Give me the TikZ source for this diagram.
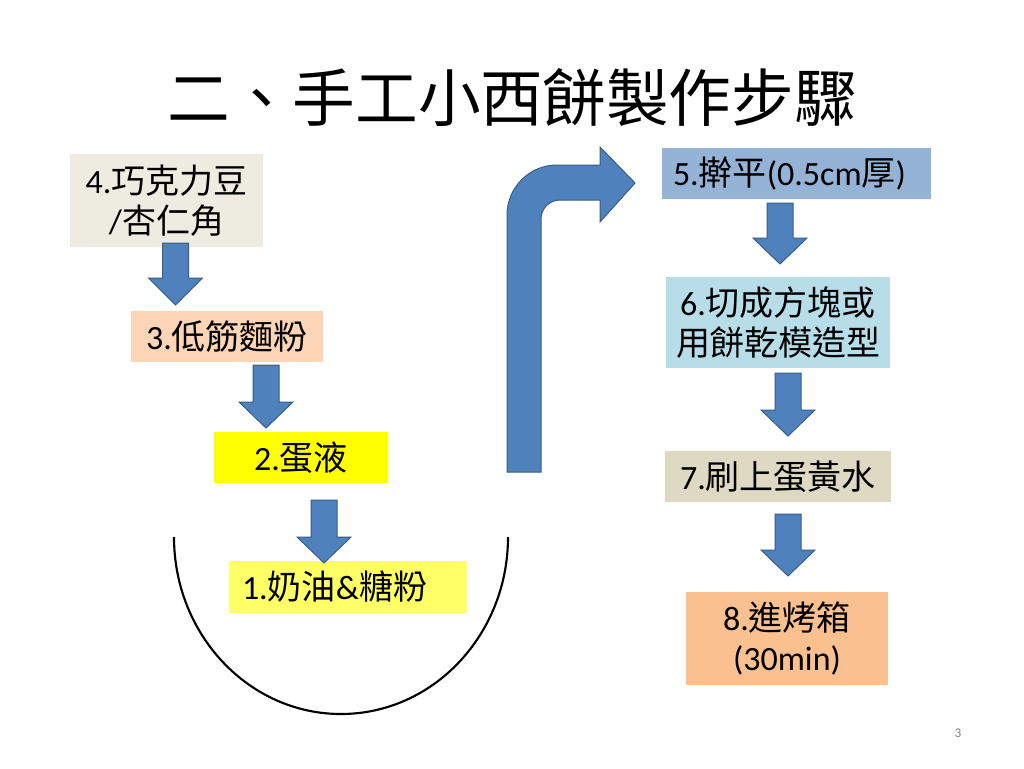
\documentclass[tikz,border=0pt]{standalone}
\usepackage{fontspec}
\setmainfont{Carlito}
\newfontfamily\cjk{Noto Sans CJK TC}
\definecolor{cbox4}{HTML}{EEECE1}
\definecolor{cbox3}{HTML}{FBD5B5}
\definecolor{cbox2}{HTML}{FFFF00}
\definecolor{cbox1}{HTML}{FFFF66}
\definecolor{cbox5}{HTML}{95B3D7}
\definecolor{cbox6}{HTML}{B7DEE8}
\definecolor{cbox7}{HTML}{DDD9C3}
\definecolor{cbox8}{HTML}{FAC090}
\definecolor{arrowblue}{HTML}{4F81BD}
\definecolor{arrowedge}{HTML}{385D8A}
\newcommand\blkarrow[4]{\filldraw[barrow] ({#1-13},#2) -- ({#1+13},#2) -- ({#1+13},#3) -- ({#1+27},#3) -- (#1,#4) -- ({#1-27},#3) -- ({#1-13},#3) -- cycle;}
\begin{document}
\begin{tikzpicture}[x=0.75pt,y=-0.75pt,
  stepbox/.style={inner sep=0pt, align=center, font=\fontsize{25.5}{30}\selectfont},
  bsize/.style 2 args={minimum width={#1*0.75pt}, minimum height={#2*0.75pt}},
  barrow/.style={fill=arrowblue, draw=arrowedge, line width=0.75pt, line join=miter}]
\fill[white] (0,0) rectangle (1024,768);
\useasboundingbox (0,0) rectangle (1024,768);

\node[font=\fontsize{47}{50}\selectfont\cjk] (title) at (512,98) {二、手工小西餅製作步驟};

\node[stepbox, fill=cbox4, bsize={193}{93}] (b4) at (166.5,200.5) {4.{\cjk 巧克力豆}\\/{\cjk 杏仁角}};
\node[stepbox, fill=cbox3, bsize={192}{51}] (b3) at (227,336.5) {3.{\cjk 低筋麵粉}};
\node[stepbox, fill=cbox2, bsize={174}{51}] (b2) at (301,457.5) {2.{\cjk 蛋液}};
\node[stepbox, fill=cbox1, bsize={238}{52}, inner xsep=9.75pt, text width=159pt, align=left] (b1) at (348,587) {1.{\cjk 奶油}\&{\cjk 糖粉}};

\node[stepbox, fill=cbox5, bsize={269}{51}, inner xsep=8.25pt, text width=185.25pt, align=left] (b5) at (796.5,173.5) {5.{\cjk 擀平}(0.5cm{\cjk 厚})};
\node[stepbox, fill=cbox6, bsize={224}{91}] (b6) at (778,322.5) {6.{\cjk 切成方塊或}\\{\cjk 用餅乾模造型}};
\node[stepbox, fill=cbox7, bsize={226}{51}] (b7) at (778,476.5) {7.{\cjk 刷上蛋黃水}};
\node[stepbox, fill=cbox8, bsize={202}{93}] (b8) at (787,638.5) {8.{\cjk 進烤箱}\\(30min)};

\blkarrow{175.5}{243}{278}{305}
\blkarrow{266}{365}{402}{428}
\blkarrow{324}{500}{537}{563}
\blkarrow{780}{203}{238}{264}
\blkarrow{788}{373}{410}{436}
\blkarrow{788}{514}{550}{576}

\filldraw[barrow] (507,472) -- (507,215) .. controls (507,187.4) and (529.4,165) .. (557,165) -- (600,165) -- (600,147) -- (635,183) -- (600,222) -- (600,200) -- (560,200) .. controls (549.5,200) and (541,208.5) .. (541,219) -- (541,472) -- cycle;

\draw[line width=1.6pt] (174,537) .. controls (174,634.7) and (248.8,714) .. (341,714) .. controls (433.2,714) and (508,634.7) .. (508,537);

\node[font=\fontsize{10}{12}\selectfont, text=gray] (pg) at (958,733) {3};
\end{tikzpicture}
\end{document}
